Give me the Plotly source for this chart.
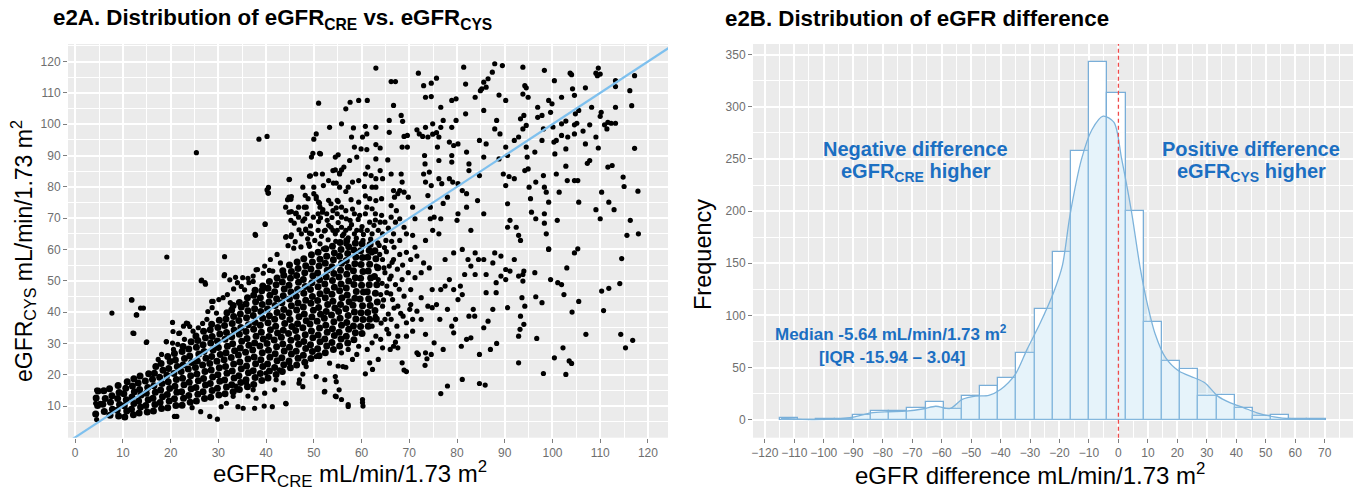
import plotly.graph_objects as go

# ---------------- Panel A data: (eGFR_CRE, eGFR_CYS) pairs ----------------
upper_pts = [
(25.4,90.9),(38.5,95.2),(40.2,96.1),(40.2,79.0),(40.4,78.0),(39.8,68.0),(37.8,64.5),(44.8,82.3),(44.8,76.7),(45.2,76.0),
(44.8,71.9),(46.2,71.4),(44.1,63.9),(45.2,64.1),(48.0,73.5),(49.1,83.4),(49.5,89.5),(51.4,90.5),(50.0,95.2),(50.5,96.9),
(51.0,106.7),(47.7,69.1),(48.3,66.1),(48.9,61.8),(49.5,65.0),(50.0,77.8),(50.5,76.2),(51.0,75.1),(51.3,73.5),(51.8,71.9),
(51.4,70.1),(52.0,60.2),(52.4,66.1),(52.8,69.3),(53.1,67.7),(53.6,67.1),(54.0,66.1),(54.5,65.0),(54.9,66.1),(55.8,67.1),
(56.3,65.0),(56.7,66.1),(57.2,63.7),(52.0,80.4),(53.3,99.0),(54.1,81.2),(54.5,89.5),(54.5,85.4),(55.4,84.1),(55.8,100.1),
(56.7,104.9),(57.6,107.0),(59.4,107.6),(61.2,107.6),(58.3,98.8),(57.9,95.9),(60.2,95.9),(58.5,92.7),(59.9,92.1),(57.5,88.4),
(59.0,89.5),(58.1,81.5),(59.4,82.0),(56.7,78.5),(57.8,75.9),(59.4,75.1),(58.5,71.4),(59.3,69.6),(60.8,99.3),(61.1,96.9),
(61.1,91.9),(61.3,86.3),(62.0,83.6),(60.6,80.1),(60.8,77.1),(61.1,73.5),(62.2,73.0),(63.0,117.9),(63.0,99.0),(63.0,93.5),
(63.9,92.4),(63.0,88.9),(63.9,85.2),(63.0,82.6),(64.4,82.6),(63.0,79.9),(63.0,75.6),(64.2,76.2),(62.9,71.4),(64.2,70.9),
(64.9,68.7),(63.5,66.1),(64.4,65.0),(65.1,62.9),(65.8,97.4),(65.5,88.6),(66.2,84.1),(66.2,113.6),(67.1,113.6),(66.7,106.0),
(65.8,101.2),(66.9,76.7),(67.6,77.8),(66.7,78.8),(66.2,74.0),(67.3,72.4),(66.2,70.3),(67.1,68.7),(68.0,69.8),(68.9,67.1),
(68.3,102.8),(68.6,100.9),(68.9,96.1),(69.6,96.4),(68.5,92.7),(69.6,92.7),(68.3,84.1),(68.5,81.5),(68.0,78.8),(68.9,78.3),
(69.8,76.7),(70.7,73.5),(69.4,65.0),(70.7,64.5),(71.2,69.8),(71.9,116.3),(71.6,98.2),(72.1,96.9),(72.8,96.1),(73.0,112.3),
(74.6,113.1),(73.4,108.6),(74.6,108.8),(75.7,114.7),(73.4,99.0),(74.9,100.1),(73.9,95.9),(74.9,96.8),(73.2,90.0),(73.3,87.3),
(73.0,84.1),(74.2,84.7),(73.4,81.5),(74.6,80.4),(73.9,77.2),(74.4,73.5),(74.4,69.8),(75.2,70.3),(74.9,66.1),(76.2,65.0),
(75.7,97.3),(76.2,95.9),(76.6,99.0),(75.9,92.7),(76.2,88.4),(76.2,82.6),(76.8,81.0),(76.6,69.8),(77.1,101.2),(76.6,105.4),
(77.1,74.7),(78.0,76.7),(78.4,82.6),(79.1,81.5),(78.9,107.6),(79.8,108.1),(78.9,99.0),(79.8,101.2),(78.4,94.3),(79.3,93.2),
(80.2,93.7),(78.9,90.0),(78.9,87.9),(80.2,81.0),(81.1,78.8),(80.2,71.4),(80.0,69.3),(81.4,118.2),(81.8,112.8),(81.8,103.3),
(82.0,91.1),(82.5,87.3),(82.5,85.2),(82.0,77.8),(82.0,73.5),(82.9,66.1),(83.8,108.6),(84.9,110.7),(85.6,113.4),(86.5,114.5),
(86.1,111.8),(87.4,116.6),(87.9,119.3),(85.2,111.3),(85.6,104.4),(84.7,94.8),(86.1,93.7),(85.6,89.5),(84.7,83.6),(84.3,75.6),
(85.6,71.4),(87.9,98.5),(88.3,101.2),(88.8,88.9),(89.5,118.7),(88.8,109.3),(90.2,107.6),(89.0,96.9),(90.2,92.7),(90.6,90.0),
(89.7,84.1),(90.9,83.3),(90.2,80.4),(90.6,74.6),(91.1,69.3),(90.6,67.1),(92.0,82.6),(92.0,94.8),(92.9,95.9),(92.4,67.1),
(92.9,64.5),(93.3,62.9),(93.8,118.2),(94.2,112.3),(94.5,111.6),(93.8,109.6),(94.9,108.6),(93.3,101.7),(94.0,102.8),(93.8,98.5),
(94.5,99.6),(94.2,85.2),(94.9,85.7),(94.5,92.7),(94.7,89.5),(95.1,79.9),(95.4,76.2),(95.6,71.9),(96.5,69.8),(96.5,81.5),
(96.3,91.1),(96.9,105.4),(96.9,102.2),(97.8,102.8),(98.1,98.5),(97.8,94.8),(98.1,83.6),(98.3,117.2),(98.3,79.9),(98.7,78.3),
(98.3,71.4),(98.3,68.4),(99.2,75.1),(98.7,65.0),(99.2,60.2),(99.2,107.6),(99.9,106.5),(99.6,103.8),(100.1,99.1),(100.3,94.3),
(100.4,113.9),(100.5,90.5),(100.8,84.1),(100.8,94.8),(101.0,69.3),(101.4,78.3),(101.9,108.6),(101.9,100.1),(102.8,101.0),(101.9,96.4),
(103.2,95.9),(102.8,92.1),(102.8,86.6),(103.1,82.0),(103.7,116.3),(104.0,115.8),(104.2,111.3),(104.6,109.2),(104.8,103.3),(105.5,104.4),
(104.6,99.8),(105.1,100.3),(104.6,96.9),(105.3,82.0),(104.6,82.0),(105.5,75.1),(106.4,97.8),(106.9,93.7),(107.3,87.5),(107.8,88.4),
(106.9,111.6),(108.2,105.4),(107.8,99.8),(109.1,116.3),(109.6,117.9),(109.4,115.5),(110.0,116.0),(109.1,95.9),(109.1,72.7),(109.6,92.4),
(110.0,102.5),(110.2,103.8),(110.3,78.3),(110.0,69.8),(110.9,99.8),(111.6,100.6),(112.3,100.3),(113.2,100.3),(111.4,98.5),(111.6,86.3),
(112.5,86.8),(111.8,75.1),(112.9,72.7),(113.2,113.9),(113.2,112.0),(113.2,105.4),(114.8,83.1),(115.0,80.1),(116.2,110.7),(116.6,105.9),
(115.6,64.5),(116.3,69.3),(117.2,115.5),(117.2,92.3),(117.9,78.6),(118.0,65.0),
(44.5,75.9),(44.1,73.5),(45.2,69.3),(45.9,68.4),(46.8,70.3),(47.4,65.0),(48.2,77.3),(48.8,76.2),(50.0,79.9),(50.4,84.1),
(50.9,66.1),(51.3,61.8),(53.1,75.7),(54.0,72.4),(54.9,71.4),(55.8,73.5),(56.7,61.8),(57.6,69.3),(58.5,65.0),(59.9,66.1),
(60.3,62.9),(61.7,68.7),(62.2,65.0),(60.8,71.4),(56.7,72.4),(57.2,79.9),(55.4,79.9),(53.1,82.0),(51.8,84.1),(54.0,85.2),
(56.3,86.3),(60.8,84.1),(62.2,79.9),(61.7,76.2),(47.7,79.9),(46.8,73.5),(48.6,71.4),(49.9,70.3),(50.9,71.4),(52.7,71.4),
(53.6,74.6),(54.9,75.7),(55.8,70.3),(58.1,72.9),(59.0,66.1),(61.2,66.1),(63.9,68.7),(66.7,65.0),(68.0,62.9),(71.2,60.7),(73.4,62.9),
(44.6,61.2),(46.1,62.5),(47.3,60.8),(48.7,63.4),(50.2,62.9),(51.6,64.2),(53.0,63.1),(54.6,62.6),(56.0,64.4),(57.5,66.8),
(58.9,63.6),(60.4,64.8),(61.9,63.3),(63.4,62.1),(64.8,60.6),(52.2,65.9),(55.1,68.6),(57.9,67.9),(60.1,67.3),(62.6,67.7),
(49.3,67.5),(46.9,66.3),(53.8,70.2),(56.8,69.8),(59.6,70.9),(62.9,69.4),(65.6,66.8),(51.0,68.9),(48.1,69.8),(54.7,73.3),
]

right_pts = [
(5.2,10.9),(4.5,15.1),(4.5,5.7),(4.3,10.9),(7.7,39.7),(11.8,43.9),(12.3,33.2),(12.9,39.1),(14.3,41.3),(15.0,30.5),
(19.2,57.6),(19.1,30.5),(20.4,36.7),(21.7,33.2),(22.7,35.5),(26.5,50.2),(27.2,49.4),(23.6,36.3),(28.6,43.4),(31.3,57.7),(31.3,52.0),
(52.2,14.5),(54.5,19.4),(54.5,13.2),(55.8,12.1),(57.2,10.5),(60.2,11.1),(60.3,10.0),(60.2,12.1),(55.1,22.8),(56.7,22.4),
(60.8,20.3),(62.3,21.7),(61.7,23.8),(63.5,24.9),(64.0,31.3),(66.7,29.1),(66.0,28.1),(67.6,28.6),(68.5,23.8),(68.9,21.5),
(69.4,21.0),(70.7,33.9),(69.4,36.6),(71.6,27.0),(71.9,26.5),(73.4,27.0),(73.4,32.9),(73.3,23.0),(73.7,25.1),(74.6,26.5),
(75.2,30.2),(76.6,14.0),(78.0,16.4),(77.1,28.1),(79.3,33.4),(78.9,35.5),(79.7,37.7),(81.1,18.5),(80.9,29.1),(82.0,31.3),
(82.9,31.8),(83.4,40.9),(83.7,38.7),(84.7,26.5),(84.7,17.2),(85.9,16.7),(85.6,35.0),(86.5,37.1),(86.1,46.2),(87.0,28.1),
(87.5,40.9),(88.3,30.0),(88.2,46.2),(90.2,50.4),(90.6,41.4),(92.9,23.8),(92.9,32.3),(93.2,34.5),(93.3,38.7),(93.6,44.6),
(93.8,49.9),(94.0,53.1),(94.0,36.1),(94.2,41.9),(96.3,52.6),(96.5,44.9),(96.7,31.6),(97.8,43.0),(98.1,20.4),(99.2,60.0),
(99.6,50.4),(100.4,25.4),(101.1,49.4),(101.9,48.8),(102.2,28.6),(102.4,45.6),(102.8,20.1),(103.0,54.1),(103.5,24.4),(104.0,23.6),
(104.1,40.0),(104.6,58.9),(105.3,60.2),(105.5,43.4),(107.0,32.9),(110.3,46.7),(111.8,47.6),(110.7,40.5),(114.1,49.1),(114.5,57.1),
(114.3,32.9),(115.3,28.6),(116.8,31.0),
(65.8,54.7),(66.7,56.8),(68.0,58.4),(69.4,59.1),(70.3,56.8),(71.6,57.9),(73.0,55.7),(74.2,54.1),
(66.2,51.5),(67.1,48.8),(68.5,50.4),(69.8,52.6),(71.2,51.0),(72.5,52.6),
(65.3,46.2),(66.5,44.0),(67.6,41.9),(68.9,45.1),(70.3,42.4),(71.6,40.3),(72.5,44.6),(73.9,41.9),(74.8,47.2),
(66.2,37.7),(67.4,35.5),(68.7,38.7),(70.1,40.9),(72.5,37.7),(74.8,41.4),(75.7,42.4),(76.4,37.7),
(76.6,47.2),(77.5,48.3),(78.4,50.4),(79.3,47.2),(80.7,48.3),(81.6,52.0),(82.3,56.8),(82.9,54.7),(83.8,52.0),
(77.5,56.8),(79.3,58.9),(81.1,60.0),(78.0,40.9),(80.2,44.0),(81.1,45.6),(82.5,38.7),
(83.8,58.9),(84.5,56.8),(85.6,56.8),(87.5,55.7),(87.9,58.9),(89.2,57.9),(86.1,52.0),(88.2,49.4),(89.2,51.5),
(90.2,53.6),(91.1,53.1),(92.0,56.8),(92.9,51.5),(93.8,52.0),
(63.1,54.7),(63.5,50.4),(64.0,45.6),(64.4,41.9),(64.9,37.7),(65.3,34.5),(63.8,58.4),(64.9,52.6),(65.3,48.3),(64.4,56.8),
(62.2,58.9),(62.9,38.7),(62.2,35.5),(70.3,47.2),(70.7,37.7),(69.4,32.3),(67.6,32.3),
(59.0,26.5),(59.4,29.1),(61.2,28.1),(62.2,30.2),(63.0,32.3),(58.1,24.9),(57.2,28.1),(55.8,27.0),
(64.1,36.5),(65.6,39.4),(64.6,43.9),(66.1,45.8),(64.3,49.2),(65.9,50.6),(64.7,54.1),(66.4,55.9),(65.2,59.3),(66.8,60.7),
(67.5,53.7),(67.9,47.3),(66.8,41.3),(68.2,39.6),(65.7,33.1),(67.1,30.4),(64.4,28.6),(66.3,62.6),(63.7,61.3),(68.6,55.0),
]

fringe_pts = [
(11.9,43.9),(12.8,39.1),(13.7,41.3),(12.1,33.3),(14.9,30.3),(26.4,50.0),(27.3,48.9),(23.3,36.5),(24.0,35.4),(20.5,33.8),
(21.9,33.3),(20.4,30.1),(19.1,30.6),(28.9,43.4),(27.8,40.2),(29.6,39.7),(31.2,51.6),(32.4,50.3),(33.6,51.1),(34.8,48.2),
(35.5,47.1),(36.2,50.8),(37.3,49.8),(37.9,53.5),(39.4,52.4),(40.7,53.3),(37.7,64.8),(39.8,68.2),(40.5,79.8),(40.5,78.0),
(44.9,82.4),(45.3,76.9),(45.3,72.1),(46.3,71.6),(49.3,83.5),(48.4,73.5),(48.3,66.5),(49.1,65.2),(50.5,76.9),(51.2,74.8),
(51.9,72.7),(54.7,81.2),(55.1,75.3),(55.4,84.4),(55.8,85.4),(49.8,90.7),(51.2,90.7),(55.1,90.2),(49.1,61.0),(45.8,60.4),
(44.2,64.1),(45.3,64.7),
(28.2,6.7),(29.8,5.8),(30.6,9.8),(31.7,10.9),(33.1,13.1),(34.1,9.8),(35.2,9.3),(37.6,9.3),(41.3,9.8),(44.2,10.7),
(37.9,12.5),(39.7,14.1),(41.8,15.2),(37.3,15.2),(42.1,18.4),(47.0,18.4),(47.7,16.2),(46.9,17.3),(50.5,19.4),(52.3,18.4),
(52.3,14.7),(54.7,17.8),(55.3,15.2),(54.7,13.0),(57.2,9.9),(56.1,22.6),(53.3,23.7),(50.5,25.8),(48.4,22.6),(44.9,23.7),
(42.8,21.6),(40.0,20.5),(33.8,15.2),(35.9,17.3),
(28.7,41.4),(30.1,44.0),(31.0,44.6),(31.9,45.6),(32.5,43.0),(33.2,47.4),(34.0,49.4),(35.1,51.0),(36.4,49.4),(37.3,51.5),
(38.2,53.6),(39.7,54.7),(40.9,56.8),(41.4,53.1),(42.3,58.4),(43.0,55.7),
(17.4,24.9),(18.1,26.5),(20.6,28.1),(21.5,29.7),(22.9,31.3),(24.7,33.9),(25.8,35.0),(26.7,36.4),(27.6,37.7),
(20.8,6.7),(21.3,6.7),(26.3,8.2),(24.5,9.5),(33.7,16.4),(36.2,13.2),(39.6,10.0),(44.1,10.9),(43.6,17.4),(47.7,20.2),
]

core_pts = [
(4.3,7.5),(4.7,10.2),(4.4,12.6),(4.8,14.8),
(6.1,8.3),(5.8,10.6),(6.3,12.4),(6.0,14.9),
(7.3,7.1),(7.8,9.0),(7.4,11.2),(7.7,13.3),(7.2,15.5),
(9.1,6.8),(8.8,8.7),(9.3,10.5),(8.9,12.4),(9.2,14.3),(9.0,16.6),
(10.4,6.5),(10.8,8.4),(10.3,10.1),(10.7,12.0),(10.2,13.9),(10.6,15.7),(10.9,17.8),
(12.2,7.2),(11.8,9.0),(12.3,10.8),(11.9,12.9),(12.4,14.6),(12.0,16.4),(12.3,18.7),
(13.4,7.8),(13.7,9.7),(13.3,11.6),(13.8,13.5),(13.5,15.3),(13.2,17.4),(13.6,19.6),
(15.1,8.1),(14.8,10.2),(15.3,12.0),(14.9,14.1),(15.2,15.9),(14.7,18.0),(15.4,20.3),
(16.4,8.4),(16.7,10.5),(16.3,12.5),(16.8,14.4),(16.5,16.5),(16.2,18.6),(16.6,20.5),(16.9,22.6),
(18.1,9.2),(17.8,11.1),(18.3,13.0),(17.9,15.1),(18.2,17.2),(17.7,19.2),(18.4,21.4),(18.0,23.6),
(19.4,9.5),(19.7,11.6),(19.3,13.7),(19.8,15.6),(19.5,17.8),(19.2,19.8),(19.6,22.0),(19.9,24.2),(19.4,25.8),
(21.1,10.2),(20.8,12.3),(21.3,14.4),(20.9,16.3),(21.2,18.5),(20.7,20.4),(21.4,22.6),(21.0,24.7),(20.8,26.8),
(22.4,10.3),(22.7,12.5),(22.3,14.6),(22.8,16.8),(22.5,18.9),(22.2,21.0),(22.6,23.1),(22.9,25.2),(22.4,27.4),(22.6,29.0),
(24.1,11.2),(23.8,13.4),(24.3,15.5),(23.9,17.6),(24.2,19.7),(23.7,21.8),(24.4,23.9),(24.0,26.0),(23.8,28.2),(24.3,30.5),
(25.4,11.6),(25.7,13.8),(25.3,15.9),(25.8,18.1),(25.5,20.2),(25.2,22.3),(25.6,24.4),(25.9,26.6),(25.4,28.8),(25.7,30.9),(25.3,32.4),
(27.1,12.4),(26.8,14.6),(27.3,16.7),(26.9,18.8),(27.2,21.0),(26.7,23.1),(27.4,25.3),(27.0,27.4),(26.8,29.6),(27.3,31.8),(26.9,33.9),
(28.4,12.8),(28.7,15.0),(28.3,17.2),(28.8,19.3),(28.5,21.5),(28.2,23.6),(28.6,25.8),(28.9,27.9),(28.4,30.1),(28.7,32.2),(28.3,34.4),(28.6,36.1),
(30.1,13.5),(29.8,15.7),(30.3,17.9),(29.9,20.0),(30.2,22.2),(29.7,24.3),(30.4,26.5),(30.0,28.7),(29.8,30.8),(30.3,33.0),(29.9,35.1),(30.2,37.4),
(31.4,13.9),(31.7,16.1),(31.3,18.3),(31.8,20.5),(31.5,22.6),(31.2,24.8),(31.6,27.0),(31.9,29.1),(31.4,31.3),(31.7,33.5),(31.3,35.7),(31.6,37.8),(31.8,39.8),
(33.1,14.6),(32.8,16.8),(33.3,19.0),(32.9,21.2),(33.2,23.4),(32.7,25.5),(33.4,27.7),(33.0,29.9),(32.8,32.1),(33.3,34.3),(32.9,36.4),(33.2,38.6),(32.8,40.7),(33.1,42.1),
(34.4,15.3),(34.7,17.5),(34.3,19.7),(34.8,21.9),(34.5,24.1),(34.2,26.3),(34.6,28.5),(34.9,30.7),(34.4,32.9),(34.7,35.1),(34.3,37.3),(34.6,39.4),(34.8,41.6),(34.4,43.1),
(36.1,16.2),(35.8,18.4),(36.3,20.6),(35.9,22.8),(36.2,25.0),(35.7,27.2),(36.4,29.4),(36.0,31.6),(35.8,33.8),(36.3,36.0),(35.9,38.2),(36.2,40.4),(35.8,42.6),(36.1,44.6),
(37.4,16.9),(37.7,19.1),(37.3,21.3),(37.8,23.5),(37.5,25.7),(37.2,27.9),(37.6,30.1),(37.9,32.3),(37.4,34.5),(37.7,36.7),(37.3,38.9),(37.6,41.1),(37.8,43.3),(37.4,45.4),(37.7,47.0),
(39.1,18.2),(38.8,20.4),(39.3,22.6),(38.9,24.8),(39.2,27.0),(38.7,29.2),(39.4,31.4),(39.0,33.6),(38.8,35.8),(39.3,38.0),(38.9,40.2),(39.2,42.4),(38.8,44.6),(39.1,46.8),(39.3,48.3),
(40.4,19.0),(40.7,21.2),(40.3,23.4),(40.8,25.6),(40.5,27.8),(40.2,30.0),(40.6,32.2),(40.9,34.4),(40.4,36.6),(40.7,38.8),(40.3,41.0),(40.6,43.2),(40.8,45.4),(40.4,47.6),(40.7,49.8),
(42.1,20.1),(41.8,22.3),(42.3,24.5),(41.9,26.7),(42.2,28.9),(41.7,31.1),(42.4,33.3),(42.0,35.5),(41.8,37.7),(42.3,39.9),(41.9,42.1),(42.2,44.3),(41.8,46.5),(42.1,48.7),(42.3,50.9),
(43.4,21.0),(43.7,23.2),(43.3,25.4),(43.8,27.6),(43.5,29.8),(43.2,32.0),(43.6,34.2),(43.9,36.4),(43.4,38.6),(43.7,40.8),(43.3,43.0),(43.6,45.2),(43.8,47.4),(43.4,49.6),(43.7,51.8),(43.5,53.2),
(45.1,22.2),(44.8,24.4),(45.3,26.6),(44.9,28.8),(45.2,31.0),(44.7,33.2),(45.4,35.4),(45.0,37.6),(44.8,39.8),(45.3,42.0),(44.9,44.2),(45.2,46.4),(44.8,48.6),(45.1,50.8),(45.3,53.0),(44.9,55.0),
(46.4,23.1),(46.7,25.3),(46.3,27.5),(46.8,29.7),(46.5,31.9),(46.2,34.1),(46.6,36.3),(46.9,38.5),(46.4,40.7),(46.7,42.9),(46.3,45.1),(46.6,47.3),(46.8,49.5),(46.4,51.7),(46.7,53.9),(46.5,56.0),
(48.1,24.0),(47.8,26.2),(48.3,28.4),(47.9,30.6),(48.2,32.8),(47.7,35.0),(48.4,37.2),(48.0,39.4),(47.8,41.6),(48.3,43.8),(47.9,46.0),(48.2,48.2),(47.8,50.4),(48.1,52.6),(48.3,54.8),(47.9,57.0),
(49.4,25.2),(49.7,27.4),(49.3,29.6),(49.8,31.8),(49.5,34.0),(49.2,36.2),(49.6,38.4),(49.9,40.6),(49.4,42.8),(49.7,45.0),(49.3,47.2),(49.6,49.4),(49.8,51.6),(49.4,53.8),(49.7,56.0),(49.5,58.3),
(51.1,26.1),(50.8,28.3),(51.3,30.5),(50.9,32.7),(51.2,34.9),(50.7,37.1),(51.4,39.3),(51.0,41.5),(50.8,43.7),(51.3,45.9),(50.9,48.1),(51.2,50.3),(50.8,52.5),(51.1,54.7),(51.3,56.9),(50.9,59.1),
(52.4,27.0),(52.7,29.2),(52.3,31.4),(52.8,33.6),(52.5,35.8),(52.2,38.0),(52.6,40.2),(52.9,42.4),(52.4,44.6),(52.7,46.8),(52.3,49.0),(52.6,51.2),(52.8,53.4),(52.4,55.6),(52.7,57.8),(52.5,60.2),
(54.1,28.1),(53.8,30.3),(54.3,32.5),(53.9,34.7),(54.2,36.9),(53.7,39.1),(54.4,41.3),(54.0,43.5),(53.8,45.7),(54.3,47.9),(53.9,50.1),(54.2,52.3),(53.8,54.5),(54.1,56.7),(54.3,58.9),(53.9,61.0),
(55.4,29.2),(55.7,31.4),(55.3,33.6),(55.8,35.8),(55.5,38.0),(55.2,40.2),(55.6,42.4),(55.9,44.6),(55.4,46.8),(55.7,49.0),(55.3,51.2),(55.6,53.4),(55.8,55.6),(55.4,57.8),(55.7,60.0),(55.5,62.2),
(57.1,30.1),(56.8,32.3),(57.3,34.5),(56.9,36.7),(57.2,38.9),(56.7,41.1),(57.4,43.3),(57.0,45.5),(56.8,47.7),(57.3,49.9),(56.9,52.1),(57.2,54.3),(56.8,56.5),(57.1,58.7),(57.3,60.9),(56.9,62.8),
(58.4,31.2),(58.7,33.4),(58.3,35.6),(58.8,37.8),(58.5,40.0),(58.2,42.2),(58.6,44.4),(58.9,46.6),(58.4,48.8),(58.7,51.0),(58.3,53.2),(58.6,55.4),(58.8,57.6),(58.4,59.8),(58.7,62.0),
(60.1,33.2),(59.8,35.4),(60.3,37.6),(59.9,39.8),(60.2,42.0),(59.7,44.2),(60.4,46.4),(60.0,48.6),(59.8,50.8),(60.3,53.0),(59.9,55.2),(60.2,57.4),(59.8,59.6),(60.1,61.8),
(61.4,35.5),(61.7,37.7),(61.3,39.9),(61.8,42.1),(61.5,44.3),(61.2,46.5),(61.6,48.7),(61.9,50.9),(61.4,53.1),(61.7,55.3),(61.3,57.5),(61.6,59.7),(61.8,61.6),
(63.1,37.8),(62.8,40.5),(63.3,43.2),(62.9,46.0),(63.2,48.7),(62.7,51.4),(63.4,54.2),(63.0,57.0),(62.8,59.6),
]

identity_line = [-5, 130]

# ---------------- Panel B data ----------------
bin_start = -114.8
bin_width = 6.17
diff_counts = [2, 0, 1, 1, 5, 8, 8, 11, 17, 10, 23, 32, 40, 64, 106,
               161, 258, 343, 313, 200, 94, 56, 49, 23, 24, 11, 4, 5, 1, 1]
density_x = [-114.5, -110, -104, -96, -90, -84, -78, -72, -66, -62, -57, -53, -48.5, -44, -40,
             -35, -31, -26.5, -22, -19, -16.5, -12.5, -9, -5.2, -1.5, 1.1, 4.4, 7.3, 9.5, 12.5,
             16, 20.5, 25.7, 29.3, 33.7, 38, 42.6, 47, 52.8, 58.7, 64, 70]
density_y = [1.3, 0.8, 0.3, 0.8, 2.6, 6.7, 7.7, 8.3, 10.6, 13, 10.9, 19.5, 22.7, 23.4, 29,
             43.5, 67.5, 93, 122, 148, 195, 250, 278, 291, 285, 250, 200, 147, 115, 82,
             59.5, 46.7, 40.3, 35.5, 22.7, 16.3, 11.5, 6.7, 2.9, 1, 0.8, 1]

a_xticks = list(range(0, 121, 10))
a_yticks = list(range(10, 121, 10))
b_xticks = list(range(-120, 71, 10))
b_yticks = list(range(0, 351, 50))

# ---------------- figure ----------------
W, H = 1361, 492
def px(v): return v / W
def py(v): return 1 - v / H

all_pts = upper_pts + right_pts + fringe_pts
fig = go.Figure()
fig.add_trace(go.Scatter(x=[p[0] for p in core_pts], y=[p[1] for p in core_pts], mode='markers',
                         marker=dict(color='black', size=7, line=dict(width=0)), xaxis='x', yaxis='y', hoverinfo='skip'))
fig.add_trace(go.Scatter(x=[p[0] for p in all_pts], y=[p[1] for p in all_pts], mode='markers',
                         marker=dict(color='black', size=5.2, line=dict(width=0)), xaxis='x', yaxis='y', hoverinfo='skip'))
fig.add_trace(go.Scatter(x=identity_line, y=identity_line, mode='lines',
                         line=dict(color='#7ec0ee', width=2.2), xaxis='x', yaxis='y', hoverinfo='skip'))

centers = [bin_start + (i + 0.5) * bin_width for i in range(len(diff_counts))]
fig.add_trace(go.Bar(x=centers, y=diff_counts, width=bin_width,
                     marker=dict(color='white', line=dict(color='#7aaed8', width=1.3)),
                     xaxis='x2', yaxis='y2', hoverinfo='skip'))
fig.add_trace(go.Scatter(x=density_x, y=density_y, mode='lines',
                         line=dict(color='#7db3db', width=1.3, shape='spline', smoothing=0.8),
                         fill='tozeroy', fillcolor='rgba(173,214,240,0.3)',
                         xaxis='x2', yaxis='y2', hoverinfo='skip'))

tickfont = dict(family='Liberation Sans, Arial, sans-serif', size=12, color='#6e6e6e')
common = dict(showgrid=True, gridcolor='white', gridwidth=1.5, zeroline=False, showline=False,
              ticks='outside', ticklen=4, tickwidth=1, tickcolor='#7f7f7f', tickfont=tickfont,
              automargin=False)
ydom = [py(437.7), py(44)]

fig.update_layout(
    width=W, height=H, autosize=False, showlegend=False,
    margin=dict(l=0, r=0, t=0, b=0, pad=0),
    paper_bgcolor='white', plot_bgcolor='#ebebeb',
    bargap=0,
    xaxis=dict(domain=[px(68), px(668)], range=[-1.5, 124.2], tickvals=a_xticks, anchor='y',
               minor=dict(dtick=5, tick0=0, showgrid=True, gridcolor='white', gridwidth=0.7), **common),
    yaxis=dict(domain=ydom, range=[-0.1, 125.6], tickvals=a_yticks, anchor='x',
               minor=dict(dtick=5, tick0=0, showgrid=True, gridcolor='white', gridwidth=0.7), **common),
    xaxis2=dict(domain=[px(753), px(1353)], range=[-124, 79.6], tickvals=b_xticks, anchor='y2',
                minor=dict(dtick=5, tick0=0, showgrid=True, gridcolor='white', gridwidth=0.7), **common),
    yaxis2=dict(domain=ydom, range=[-17.15, 360.15], tickvals=b_yticks, anchor='x2',
                minor=dict(dtick=25, tick0=0, showgrid=True, gridcolor='white', gridwidth=0.7), **common),
)

fig.add_shape(type='line', xref='x2', yref='y2 domain', x0=0, x1=0, y0=0, y1=1,
              line=dict(color='#f04a4a', width=1.3, dash='4px,3px'), layer='above')

font_b = 'Liberation Sans, Arial, sans-serif'
blue = '#1b6fc2'
ann = [
    dict(text='<b>e2A. Distribution of eGFR<sub>CRE</sub> vs. eGFR<sub>CYS</sub></b>', x=px(52), y=py(18.5),
         xanchor='left', yanchor='middle', font=dict(family=font_b, size=22.3, color='black')),
    dict(text='<b>e2B. Distribution of eGFR difference</b>', x=px(723.5), y=py(18.5),
         xanchor='left', yanchor='middle', font=dict(family=font_b, size=22.3, color='black')),
    dict(text='eGFR<sub>CRE</sub> mL/min/1.73 m<sup>2</sup>', x=px(350), y=py(474),
         xanchor='center', yanchor='middle', font=dict(family=font_b, size=24, color='black')),
    dict(text='eGFR<sub>CYS</sub> mL/min/1.73 m<sup>2</sup>', x=px(23), y=py(251), textangle=-90,
         xanchor='center', yanchor='middle', font=dict(family=font_b, size=23, color='black')),
    dict(text='eGFR difference mL/min/1.73 m<sup>2</sup>', x=px(1030), y=py(474),
         xanchor='center', yanchor='middle', font=dict(family=font_b, size=24, color='black')),
    dict(text='Frequency', x=px(703), y=py(254), textangle=-90,
         xanchor='center', yanchor='middle', font=dict(family=font_b, size=23.5, color='black')),
]
for a in ann:
    a.update(xref='paper', yref='paper', showarrow=False, borderpad=0)
    fig.add_annotation(**a)

def b_y(pix):
    # convert a pixel row in panel B to its frequency value
    return (420 - pix) / 1.044

ann_b = [
    ('<b>Negative difference</b>', -68.8, 149, 20),
    ('<b>eGFR<sub>CRE</sub> higher</b>', -68.8, 172.5, 20),
    ('<b>Positive difference</b>', 45.1, 149, 20),
    ('<b>eGFR<sub>CYS</sub> higher</b>', 45.1, 172.5, 20),
    ('<b>Median -5.64 mL/min/1.73 m<sup>2</sup></b>', -77.1, 333.3, 17),
    ('<b>[IQR -15.94 – 3.04]</b>', -77.0, 357.5, 17),
]
for t, xv, pix, fs in ann_b:
    fig.add_annotation(text=t, x=xv, y=b_y(pix), xref='x2', yref='y2', showarrow=False,
                       xanchor='center', yanchor='middle', font=dict(family=font_b, size=fs, color=blue))

# remove the browser's default 8 px body margin so the figure sits at the page origin
fig.write_html('out.html', config={'displayModeBar': False},
               post_script="document.body.style.margin='0';document.body.style.padding='0';")
